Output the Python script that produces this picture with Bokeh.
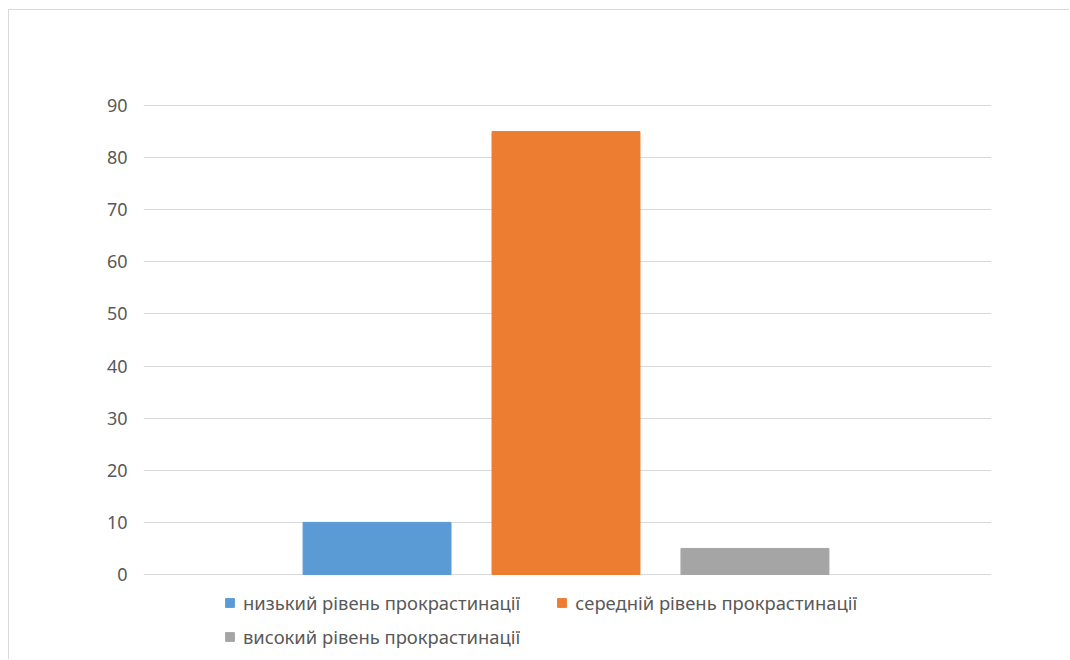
from bokeh.plotting import figure
from bokeh.models import ColumnDataSource, Range1d, FixedTicker, Legend, LegendItem
from bokeh.embed import file_html
from bokeh.resources import INLINE

# ---- data ----
series = ["низький рівень прокрастинації", "середній рівень прокрастинації", "високий рівень прокрастинації"]
values = [10, 85, 5]
colors = ["#5B9BD5", "#ED7D31", "#A5A5A5"]
y_ticks = [0, 10, 20, 30, 40, 50, 60, 70, 80, 90]

FONT = "Noto Sans"
TXT = "#595959"

src = ColumnDataSource(dict(x=list(range(len(series))), top=values, color=colors, name=series))

# frame extends below the zero line so the legend can sit inside it unclipped
p = figure(width=1061, height=650, output_backend="svg", toolbar_location=None,
           x_range=Range1d(-1.236, 3.252), y_range=Range1d(-16.503, 90.192),
           min_border_left=134, min_border_right=79, min_border_top=94, min_border_bottom=0)
p.margin = (9, 0, 0, 8)
p.styles = {"border-top": "1px solid #d9d9d9", "border-left": "1px solid #d9d9d9"}

r = p.vbar(x="x", top="top", width=0.783, color="color", source=src)

p.outline_line_color = None
p.xaxis.visible = False
p.xgrid.visible = False
p.ygrid.grid_line_color = "#d9d9d9"
p.ygrid.grid_line_width = 1
p.yaxis.ticker = FixedTicker(ticks=y_ticks)
p.ygrid.ticker = FixedTicker(ticks=y_ticks)
p.yaxis.axis_line_color = None
p.yaxis.major_tick_line_color = None
p.yaxis.minor_tick_line_color = None
p.yaxis.major_label_standoff = 10
p.yaxis.major_label_text_font = FONT
p.yaxis.major_label_text_font_size = "18px"
p.yaxis.major_label_text_color = TXT
p.ygrid.level = "underlay"
r.level = "glyph"


def make_legend(idx, loc):
    items = [LegendItem(label=series[i], renderers=[r], index=i) for i in idx]
    return Legend(items=items, orientation="horizontal", location=loc,
                  label_text_font=FONT, label_text_font_size="18.4px", label_text_color=TXT,
                  glyph_width=11, glyph_height=11, spacing=36, padding=0, margin=0,
                  border_line_color=None, background_fill_alpha=0, label_standoff=8)


p.add_layout(make_legend([0, 1], (81, 45)), "center")
p.add_layout(make_legend([2], (81, 11)), "center")

open("out.html", "w").write(file_html(p, INLINE))
